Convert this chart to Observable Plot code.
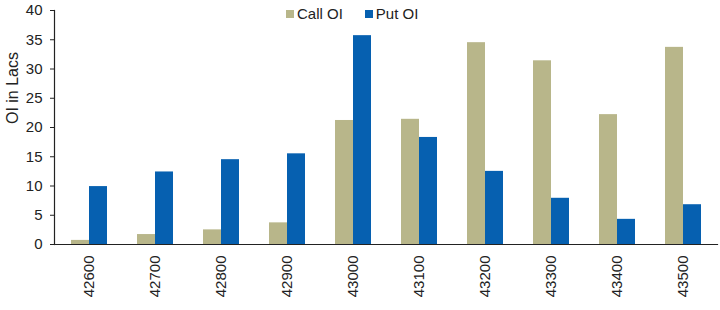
<!DOCTYPE html>
<html>
<head>
<meta charset="utf-8">
<script src="https://cdn.jsdelivr.net/npm/d3@7"></script>
<script src="https://cdn.jsdelivr.net/npm/@observablehq/plot@0.6"></script>
<style>
  html, body { margin: 0; padding: 0; background: #fff; }
  #wrap { position: relative; width: 720px; height: 310px; font-family: "Liberation Sans", Arial, sans-serif; }
  #legend { position: absolute; top: 5px; left: 286px; display: flex; gap: 22px; font-size: 15px; color: #222; }
  #legend span.item { display: flex; align-items: center; }
  #legend span.sw { display: inline-block; width: 8px; height: 8px; margin-right: 3px; }
  #ylabel { position: absolute; left: 13px; top: 88px; transform: translate(-50%, -50%) rotate(-90deg); white-space: nowrap; font-size: 16px; color: #222; line-height: 1; }
</style>
</head>
<body>
<div id="wrap">
  <div id="chart"></div>
  <div id="legend"></div>
  <div id="ylabel"></div>
</div>
<script>
const strikes = ["42600","42700","42800","42900","43000","43100","43200","43300","43400","43500"];
const seriesNames = ["Call OI", "Put OI"];
const callOI = [0.7, 1.7, 2.5, 3.7, 21.2, 21.4, 34.5, 31.4, 22.2, 33.7];
const putOI  = [9.9, 12.4, 14.5, 15.5, 35.7, 18.3, 12.5, 7.9, 4.3, 6.8];
const colors = ["#B8B68A", "#0660B0"];
const yTicks = [0, 5, 10, 15, 20, 25, 30, 35, 40];
const yLabel = "OI in Lacs";

const data = [];
strikes.forEach((s, i) => {
  data.push({strike: s, series: seriesNames[0], value: callOI[i]});
  data.push({strike: s, series: seriesNames[1], value: putOI[i]});
});

const chart = Plot.plot({
  width: 720,
  height: 310,
  marginLeft: 52,
  marginRight: 1,
  marginTop: 10,
  marginBottom: 66,
  style: { fontFamily: "Liberation Sans, Arial, sans-serif", fontSize: "15px", color: "#222", background: "#fff" },
  fx: { domain: strikes, paddingInner: 0.443, paddingOuter: 0.24, label: null },
  x: { domain: seriesNames, padding: 0, axis: null },
  y: { domain: [0, 40], ticks: yTicks, label: null },
  color: { domain: seriesNames, range: colors },
  marks: [
    Plot.barY(data, { fx: "strike", x: "series", y: "value", fill: "series", inset: 0 }),
    Plot.axisFx({ anchor: "bottom", tickSize: 0, tickRotate: -90, tickPadding: 11, fontSize: 15, label: null }),
    Plot.axisY({ ticks: yTicks, tickSize: 4, tickPadding: 8, fontSize: 15, label: null, dx: -16 }),
    Plot.frame({ anchor: "left", stroke: "#222", strokeWidth: 1.2, facet: "super", insetLeft: -16 }),
    Plot.frame({ anchor: "bottom", stroke: "#222", strokeWidth: 1.2, facet: "super", insetLeft: -16, insetRight: -16 })
  ]
});
document.getElementById("chart").appendChild(chart);
document.getElementById("ylabel").textContent = yLabel;

const legend = document.getElementById("legend");
seriesNames.forEach((n, i) => {
  const item = document.createElement("span");
  item.className = "item";
  const sw = document.createElement("span");
  sw.className = "sw";
  sw.style.background = colors[i];
  item.appendChild(sw);
  item.appendChild(document.createTextNode(n));
  legend.appendChild(item);
});
</script>
</body>
</html>
